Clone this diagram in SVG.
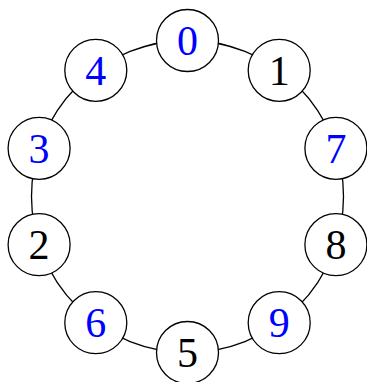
<svg xmlns="http://www.w3.org/2000/svg" width="367" height="382" viewBox="0 0 367 382">
<style>
.n circle{fill:#fff;stroke:#000;stroke-width:1.3}
.n text{font-family:"Liberation Serif","DejaVu Serif",serif;font-size:42px;text-anchor:middle}
.b text{fill:#0000ff}
.k text{fill:#000}
.e{fill:none;stroke:#000;stroke-width:1.3}
</style>
<rect width="367" height="382" fill="#fff"/>
<g id="connectors">
<circle class="e" cx="187.5" cy="196.5" r="156"/>
</g>
<g id="n0" class="n b"><circle cx="187.5" cy="40.5" r="31"/><text x="187.5" y="55">0</text></g>
<g id="n1" class="n k"><circle cx="279.2" cy="70.3" r="31"/><text x="279.2" y="84.8">1</text></g>
<g id="n7" class="n b"><circle cx="335.9" cy="148.3" r="31"/><text x="335.9" y="162.8">7</text></g>
<g id="n8" class="n k"><circle cx="335.9" cy="244.7" r="31"/><text x="335.9" y="259.2">8</text></g>
<g id="n9" class="n b"><circle cx="279.2" cy="322.7" r="31"/><text x="279.2" y="337.2">9</text></g>
<g id="n5" class="n k"><circle cx="187.5" cy="352.5" r="31"/><text x="187.5" y="367">5</text></g>
<g id="n6" class="n b"><circle cx="95.8" cy="322.7" r="31"/><text x="95.8" y="337.2">6</text></g>
<g id="n2" class="n k"><circle cx="39.1" cy="244.7" r="31"/><text x="39.1" y="259.2">2</text></g>
<g id="n3" class="n b"><circle cx="39.1" cy="148.3" r="31"/><text x="39.1" y="162.8">3</text></g>
<g id="n4" class="n b"><circle cx="95.8" cy="70.3" r="31"/><text x="95.8" y="84.8">4</text></g>
</svg>
